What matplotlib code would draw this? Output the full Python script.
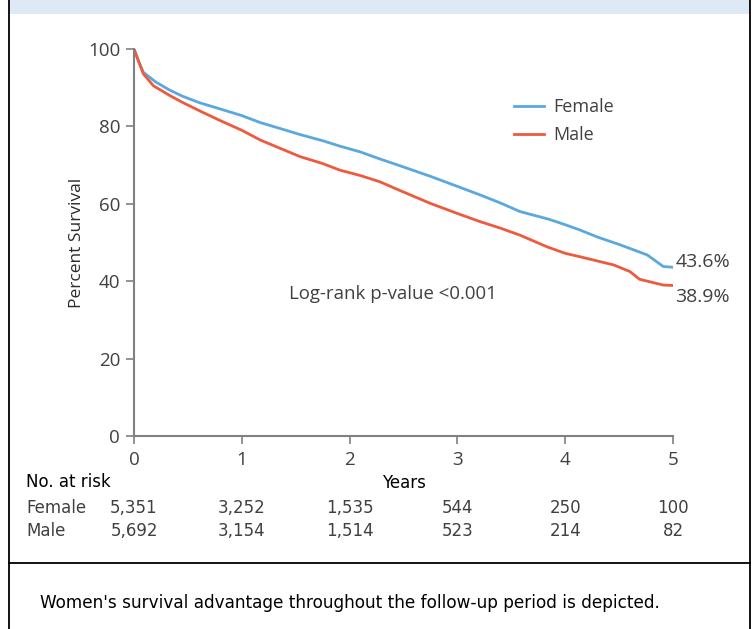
import matplotlib
matplotlib.use("Agg")
import matplotlib.pyplot as plt
from matplotlib.patches import Rectangle
from matplotlib.lines import Line2D

# ---- data ----
female_t = [0, 0.04, 0.086, 0.2, 0.33, 0.45, 0.61, 0.8, 1.0, 1.17, 1.35, 1.54, 1.75, 1.91,
            2.1, 2.28, 2.47, 2.75, 3.0, 3.21, 3.4, 3.58, 3.85, 4.0, 4.14, 4.3, 4.51, 4.76, 4.91, 5.0]
female_s = [100, 97, 94, 91.5, 89.4, 87.8, 86.1, 84.5, 82.8, 81.0, 79.5, 77.9, 76.3, 74.9,
            73.4, 71.6, 69.8, 67.1, 64.5, 62.3, 60.2, 58.0, 56.0, 54.6, 53.2, 51.4, 49.4, 46.8, 43.8, 43.6]
male_t = [0, 0.04, 0.086, 0.18, 0.33, 0.45, 0.61, 0.8, 1.0, 1.17, 1.35, 1.54, 1.75, 1.91,
          2.1, 2.28, 2.47, 2.75, 3.0, 3.21, 3.4, 3.58, 3.83, 4.0, 4.14, 4.45, 4.6, 4.69, 4.91, 5.0]
male_s = [100, 97, 93.6, 90.5, 88.0, 86.2, 84.0, 81.5, 79.0, 76.5, 74.4, 72.2, 70.4, 68.7,
          67.3, 65.7, 63.4, 60.1, 57.5, 55.4, 53.7, 51.9, 48.9, 47.2, 46.3, 44.2, 42.5, 40.5, 39.0, 38.9]

years = [0, 1, 2, 3, 4, 5]
risk_female = ["5,351", "3,252", "1,535", "544", "250", "100"]
risk_male = ["5,692", "3,154", "1,514", "523", "214", "82"]
yticks = [0, 20, 40, 60, 80, 100]
end_labels = ["43.6%", "38.9%"]

BLUE = "#5aa8de"
RED = "#ee5a3e"
TXT = "#404040"
SP = "#808080"

plt.rcParams['font.family'] = ['Open Sans', 'DejaVu Sans']
TABLE = ['DejaVu Sans']

fig = plt.figure(figsize=(7.54, 6.29), dpi=100)
W, H = 754, 629

# frame and header
fig.add_artist(Rectangle((10 / W, 1 - 14 / H), (740) / W, 14 / H, transform=fig.transFigure,
                         facecolor="#dde9f5", edgecolor="none"))
for x in (9, 750):
    fig.add_artist(Line2D([x / W, x / W], [0, 1], transform=fig.transFigure, color="black", lw=1.3))
fig.add_artist(Line2D([9 / W, 750 / W], [1 - 563 / H, 1 - 563 / H], transform=fig.transFigure,
                      color="black", lw=1.3))

ax = fig.add_axes([134 / W, 1 - 436 / H, 539 / W, 387 / H])
ax.plot(female_t, female_s, color=BLUE, lw=2.0, label="Female")
ax.plot(male_t, male_s, color=RED, lw=2.0, label="Male")
ax.set_xlim(0, 5)
ax.set_ylim(0, 100)
ax.set_xticks(years)
ax.set_yticks(yticks)
for s in ("top", "right"):
    ax.spines[s].set_visible(False)
for s in ("left", "bottom"):
    ax.spines[s].set_color(SP)
    ax.spines[s].set_linewidth(1.5)
ax.tick_params(direction="out", length=6, width=1.2, color=SP, labelcolor=TXT, labelsize=13.5)
ax.tick_params(axis="x", pad=5)
ax.tick_params(axis="y", pad=4)
ax.set_ylabel("Percent Survival", fontsize=12.5, color="#2a2a2a", labelpad=2)

ax.text(female_t[-1] + 0.02, 45.0, end_labels[0], fontsize=14, color=TXT, va="center", ha="left")
ax.text(male_t[-1] + 0.02, 36.0, end_labels[1], fontsize=14, color=TXT, va="center", ha="left")
ax.text(2.4, 36.8, "Log-rank p-value <0.001", fontsize=13.4, color=TXT, ha="center", va="center")

leg = ax.legend(loc="upper left", bbox_to_anchor=(0.675, 0.915), frameon=False, fontsize=13,
                handlelength=1.65, handletextpad=0.5, labelspacing=0.55)
for t in leg.get_texts():
    t.set_color(TXT)

# risk table
ax.text(-1.0, -12.0, "No. at risk", fontsize=12, color="black", family=TABLE, ha="left", va="center")
ax.text(2.5, -12.2, "Years", fontsize=12, color="black", family=TABLE, ha="center", va="center")
ax.text(-1.0, -18.5, "Female", fontsize=12, color=TXT, family=TABLE, ha="left", va="center")
ax.text(-1.0, -24.6, "Male", fontsize=12, color=TXT, family=TABLE, ha="left", va="center")
for x, f, m in zip(years, risk_female, risk_male):
    ax.text(x, -18.5, f, fontsize=12, color=TXT, family=TABLE, ha="center", va="center", clip_on=False)
    ax.text(x, -24.6, m, fontsize=12, color=TXT, family=TABLE, ha="center", va="center", clip_on=False)

fig.text(40 / W, 1 - 603 / H, "Women's survival advantage throughout the follow-up period is depicted.",
         fontsize=12.2, color="black", family=TABLE, ha="left", va="center")

fig.savefig("out.png", dpi=100)
